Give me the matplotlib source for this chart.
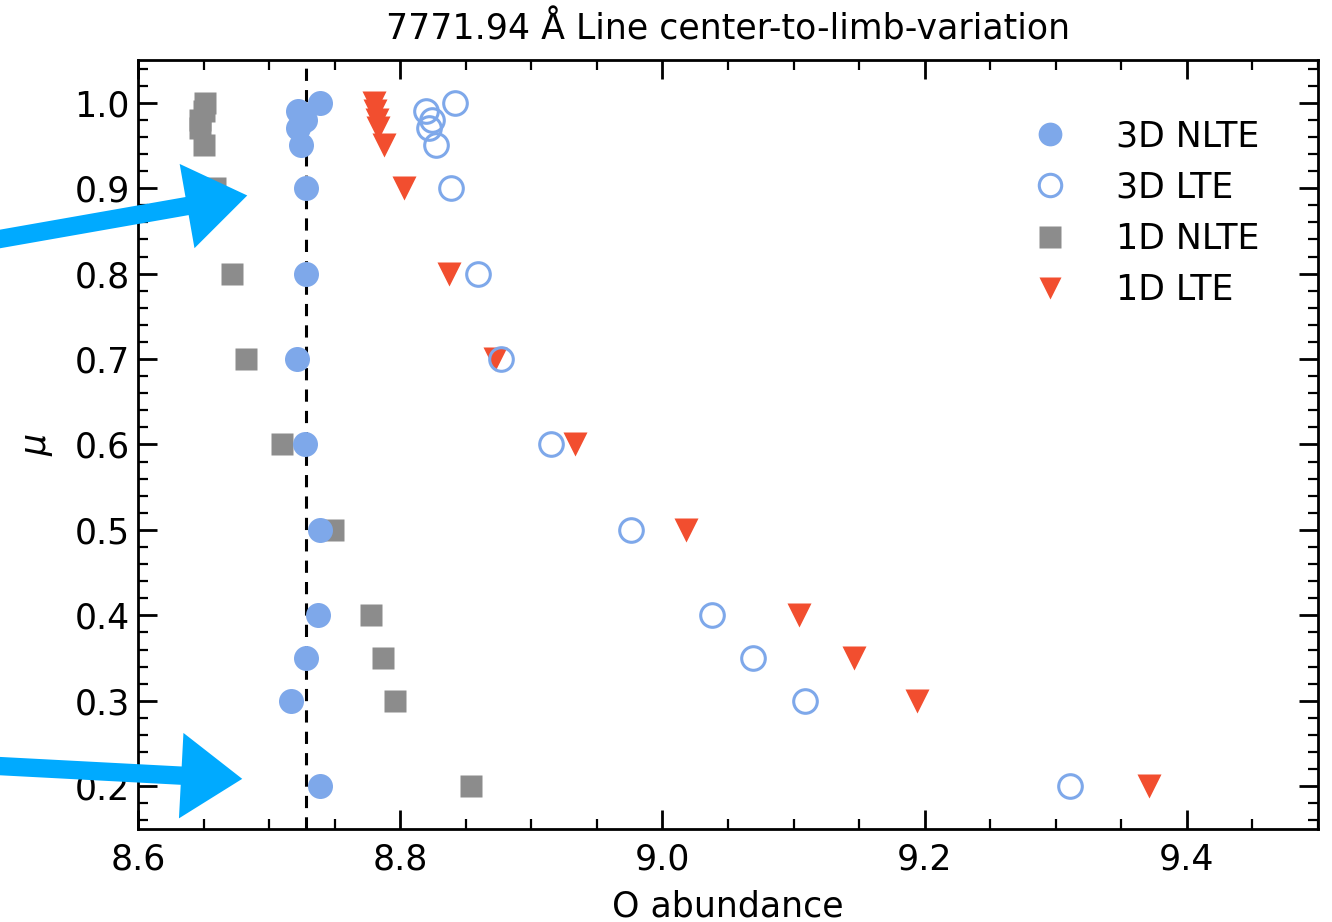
import numpy as np
import matplotlib
matplotlib.use('Agg')
import matplotlib.pyplot as plt
from matplotlib.patches import FancyArrowPatch

# mu values (shared by all four series)
mu = [1.0, 0.99, 0.98, 0.97, 0.95, 0.9, 0.8, 0.7, 0.6, 0.5, 0.4, 0.35, 0.3, 0.2]

# O abundance
nlte_3d = [8.739, 8.722, 8.727, 8.722, 8.724, 8.728, 8.728, 8.721, 8.727, 8.739, 8.737, 8.728, 8.717, 8.739]
lte_3d = [8.842, 8.820, 8.824, 8.822, 8.827, 8.839, 8.859, 8.877, 8.915, 8.976, 9.038, 9.069, 9.109, 9.311]
nlte_1d = [8.651, 8.650, 8.647, 8.647, 8.650, 8.659, 8.672, 8.682, 8.710, 8.749, 8.778, 8.787, 8.796, 8.854]
lte_1d = [8.780, 8.781, 8.782, 8.783, 8.788, 8.803, 8.837, 8.872, 8.933, 9.018, 9.104, 9.146, 9.194, 9.371]

ref_abund = 8.728

blue = '#7ea8ea'
grey = '#8c8c8c'
red = '#f24e2f'
arrow_col = '#00aaff'

fs = 25
plt.rcParams['font.family'] = 'DejaVu Sans'
plt.rcParams['font.size'] = fs

fig = plt.figure(figsize=(13.32, 9.22), dpi=100)
ax = fig.add_axes([0.1036, 0.1009, 0.8859, 0.8340])

ax.axvline(ref_abund, color='k', ls='--', lw=2.2, dashes=(4, 3), zorder=1)

ax.plot(nlte_3d, mu, 'o', ms=18, color=blue, mec='none', label='3D NLTE', zorder=3)
ax.plot(lte_3d, mu, 'o', ms=17, mfc='none', mec=blue, mew=2.2, label='3D LTE', zorder=3)
ax.plot(nlte_1d, mu, 's', ms=16.5, color=grey, mec='none', label='1D NLTE', zorder=2)
ax.plot(lte_1d, mu, 'v', ms=17, color=red, mec='none', label='1D LTE', zorder=2)

ax.set_xlim(8.6, 9.5)
ax.set_ylim(0.15, 1.05)
ax.set_xticks([8.6, 8.8, 9.0, 9.2, 9.4])
ax.set_xticks(np.arange(8.6, 9.5001, 0.05), minor=True)
ax.set_yticks([0.2, 0.3, 0.4, 0.5, 0.6, 0.7, 0.8, 0.9, 1.0])
ax.set_yticks(np.arange(0.16, 1.05, 0.02), minor=True)
ax.tick_params(which='both', direction='in', top=True, right=True, labelsize=fs)
ax.tick_params(which='major', length=14, width=2)
ax.tick_params(which='minor', length=7, width=1.6)
ax.tick_params(axis='x', which='major', pad=10)
ax.tick_params(axis='y', which='major', pad=6)
for s in ax.spines.values():
    s.set_linewidth(2)

ax.set_xlabel('O abundance', fontsize=fs, labelpad=9)
ax.set_ylabel(r'$\mu$', fontsize=fs, labelpad=14)
ax.set_title('7771.94 Å Line center-to-limb-variation', fontsize=fs, pad=15)

ax.legend(loc='upper right', frameon=False, fontsize=fs, handletextpad=0.9,
          labelspacing=0.5, borderaxespad=1.3, markerscale=0.95)

# blue arrows drawn on top of the figure (figure pixels, origin bottom-left)
H = 922
for (x0, y0), (x1, y1) in [((-40, H - 246), (250, H - 195)),
                           ((-40, H - 764), (245, H - 779))]:
    arr = FancyArrowPatch((x0, y0), (x1, y1), transform=None,
                          arrowstyle='simple,head_width=2.8,head_length=2.0,tail_width=0.6',
                          mutation_scale=22, color=arrow_col, lw=0, zorder=10)
    fig.patches.append(arr)

fig.savefig('out.png', dpi=100)
